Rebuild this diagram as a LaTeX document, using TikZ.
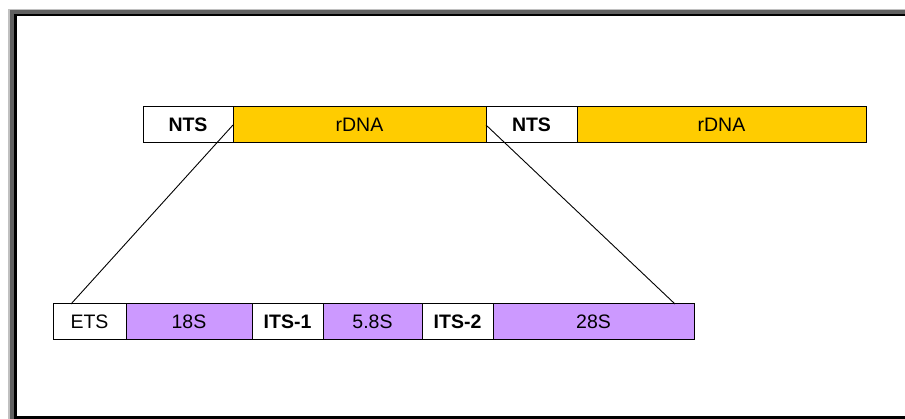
\documentclass[tikz,border=0pt]{standalone}
\usepackage{fontspec}
\setmainfont{Liberation Sans}
\usetikzlibrary{positioning}
\definecolor{giallo}{HTML}{FFCC00}
\definecolor{viola}{HTML}{CC99FF}
\definecolor{grigiochiaro}{HTML}{C0C0C0}
\definecolor{grigioscuro}{HTML}{606060}
\tikzset{
  blocco/.style={draw, line width=1pt, outer sep=0pt, inner sep=0pt, minimum height=36pt, font=\fontsize{19.5}{21}\selectfont},
  spaziatore/.style={blocco, fill=white, font=\fontsize{19.5}{21}\selectfont\bfseries},
  esterno/.style={blocco, fill=white},
  gene/.style={blocco, fill=giallo},
  subunita/.style={blocco, fill=viola},
}
\begin{document}
\begin{tikzpicture}[x=1pt, y=-1pt]
        \useasboundingbox (0,0) rectangle (905,419);
        %cornice
        \fill[grigiochiaro] (8,9) rectangle (905,419);
        \fill[grigioscuro] (10,10) rectangle (905,419);
        \fill[black] (14,14) rectangle (905,419);
        \fill[white] (16.5,16.5) rectangle (905,416.5);

        %riga superiore
        \node[spaziatore, minimum width=90pt, anchor=north west] (nts1) at (143,107) {NTS};
        \node[gene, minimum width=253pt, right=0pt of nts1] (rdna1) {rDNA};
        \node[spaziatore, minimum width=91pt, right=0pt of rdna1] (nts2) {NTS};
        \node[gene, minimum width=289pt, right=0pt of nts2] (rdna2) {rDNA};

        %riga inferiore
        \node[esterno, minimum width=73pt, anchor=north west] (ets) at (53,304) {ETS};
        \node[subunita, minimum width=126pt, right=0pt of ets] (s18) {18S};
        \node[spaziatore, minimum width=71pt, right=0pt of s18] (its1) {ITS-1};
        \node[subunita, minimum width=99pt, right=0pt of its1] (s58) {5.8S};
        \node[spaziatore, minimum width=71pt, right=0pt of s58] (its2) {ITS-2};
        \node[subunita, minimum width=201pt, right=0pt of its2] (s28) {28S};

        %ingrandimento
        \coordinate (sx) at (71,304);
        \coordinate (dx) at (675,304);
        \draw[line width=0.9pt] (rdna1.west) -- (sx);
        \draw[line width=0.9pt] (rdna1.east) -- (dx);

    \end{tikzpicture}
\end{document}
